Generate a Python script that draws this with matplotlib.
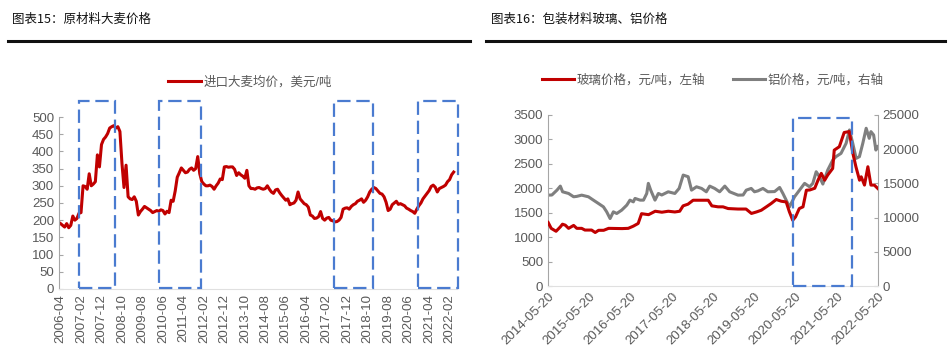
import matplotlib
matplotlib.use("Agg")
import matplotlib.pyplot as plt
import matplotlib.dates as mdates
import pandas as pd
from matplotlib.patches import Rectangle
from matplotlib.lines import Line2D

plt.rcParams['font.family'] = ['Liberation Sans', 'Noto Sans CJK SC', 'DejaVu Sans']

# ---- data: barley import price, monthly from 2006-04 ----
barley_start = '2006-04'
barley_price = [
    190, 185, 180, 190, 178, 185, 212, 200, 205, 220,
    222, 300, 298, 290, 335, 300, 305, 312, 390, 355,
    420, 435, 442, 452, 468, 472, 475, 468, 472, 458,
    365, 295, 360, 268, 262, 260, 268, 255, 215, 225,
    232, 240, 236, 232, 228, 222, 225, 228, 226, 230,
    228, 218, 226, 222, 258, 255, 285, 325, 338, 352,
    345, 338, 340, 348, 352, 345, 350, 385, 335, 312,
    305, 300, 300, 302, 298, 290, 300, 308, 320, 318,
    355, 356, 354, 355, 355, 348, 330, 338, 332, 328,
    322, 345, 300, 292, 292, 290, 294, 295, 292, 290,
    292, 300, 290, 282, 278, 288, 290, 280, 272, 265,
    258, 262, 245, 248, 250, 258, 282, 262, 255, 248,
    245, 238, 215, 212, 205, 206, 210, 225, 205, 200,
    206, 208, 200, 198, 195, 196, 200, 208, 232, 235,
    236, 232, 240, 245, 248, 255, 258, 262, 252, 258,
    268, 282, 290, 295, 292, 285, 278, 276, 268, 252,
    228, 232, 245, 250, 255, 246, 248, 245, 242, 235,
    232, 228, 225, 220, 232, 242, 250, 262, 270, 278,
    286, 298, 302, 296, 282, 292, 295, 298, 302, 312,
    318, 332, 340,
]
# highlighted periods (month index range)
barley_boxes = [(9, 26.7), (48, 68.6), (133.7, 152.4), (174.8, 194.3)]

# ---- data: glass price (left axis) ----
glass_dates = [
    '2014-05-20', '2014-06-16', '2014-07-29', '2014-09-05', '2014-09-24', '2014-10-19',
    '2014-11-17', '2015-01-01', '2015-01-29', '2015-03-13', '2015-04-11', '2015-06-09',
    '2015-07-11', '2015-08-10', '2015-09-24', '2015-11-07', '2016-03-05', '2016-04-29',
    '2016-06-13', '2016-07-26', '2016-08-25', '2016-09-24', '2016-10-26', '2016-12-24',
    '2017-02-21', '2017-04-19', '2017-06-16', '2017-07-29', '2017-08-28', '2017-10-11',
    '2017-11-25', '2018-02-10', '2018-04-08', '2018-05-10', '2018-07-04', '2018-08-17',
    '2018-10-01', '2018-12-27', '2019-03-09', '2019-04-26', '2019-06-09', '2019-07-22',
    '2019-09-05', '2019-10-19', '2019-12-02', '2020-01-15', '2020-02-28', '2020-03-27',
    '2020-04-26', '2020-05-21', '2020-06-23', '2020-07-26', '2020-08-25', '2020-09-24',
    '2020-11-07', '2020-12-06', '2021-01-04', '2021-02-03', '2021-03-02', '2021-04-15',
    '2021-04-29', '2021-06-13', '2021-07-26', '2021-09-09', '2021-10-11', '2021-11-07',
    '2021-12-09', '2021-12-24', '2022-01-22', '2022-02-21', '2022-03-20', '2022-04-19',
    '2022-05-20',
]
glass_price = [
    1300, 1180, 1120, 1210, 1265, 1245,
    1180, 1240, 1180, 1180, 1145, 1145,
    1095, 1140, 1140, 1180, 1175, 1180,
    1225, 1280, 1480, 1470, 1460, 1530,
    1510, 1530, 1515, 1530, 1640, 1675,
    1755, 1755, 1755, 1640, 1620, 1620,
    1585, 1575, 1575, 1485, 1515, 1550,
    1620, 1690, 1770, 1735, 1720, 1520,
    1345, 1415, 1585, 1620, 1960, 1965,
    2000, 2165, 2305, 2165, 2270, 2405,
    2780, 2850, 3140, 3160, 2715, 2440,
    2165, 2235, 2065, 2440, 2065, 2065,
    1995,
]

# ---- data: aluminium price (right axis) ----
alu_dates = [
    '2014-05-20', '2014-06-22', '2014-08-06', '2014-09-05', '2014-09-25', '2014-11-17',
    '2015-01-01', '2015-01-29', '2015-03-13', '2015-05-12', '2015-06-25', '2015-08-09',
    '2015-09-22', '2015-10-21', '2015-11-20', '2015-12-19', '2016-01-18', '2016-03-02',
    '2016-04-16', '2016-05-14', '2016-06-13', '2016-06-28', '2016-08-12', '2016-09-11',
    '2016-10-10', '2016-10-24', '2016-11-14', '2016-12-22', '2017-01-21', '2017-02-20',
    '2017-04-18', '2017-06-16', '2017-07-24', '2017-08-29', '2017-10-12', '2017-11-11',
    '2017-12-25', '2018-02-08', '2018-03-22', '2018-04-21', '2018-06-04', '2018-07-18',
    '2018-09-02', '2018-10-15', '2018-12-28', '2019-02-11', '2019-03-11', '2019-04-24',
    '2019-05-23', '2019-06-22', '2019-08-06', '2019-09-19', '2019-11-17', '2020-01-01',
    '2020-01-30', '2020-02-28', '2020-03-28', '2020-05-12', '2020-06-25', '2020-08-09',
    '2020-09-22', '2020-10-21', '2020-11-20', '2020-12-19', '2021-01-18', '2021-03-02',
    '2021-04-16', '2021-05-14', '2021-06-28', '2021-08-12', '2021-09-11', '2021-10-10',
    '2021-11-09', '2021-12-08', '2022-01-07', '2022-02-06', '2022-03-05', '2022-03-20',
    '2022-04-13', '2022-05-03', '2022-05-20',
]
alu_price = [
    13280, 13300, 14010, 14600, 13770, 13525,
    13040, 13100, 13280, 13040, 12550, 12060,
    11570, 10840, 9860, 10840, 10600, 11090,
    11820, 12550, 12300, 12800, 12550, 12550,
    13525, 15000, 14010, 12550, 13525, 13300,
    13770, 13525, 14260, 16210, 15970, 14010,
    14500, 14260, 13770, 14600, 14260, 13770,
    14600, 13770, 13280, 13300, 14010, 14260,
    13770, 13900, 14260, 13770, 13800, 14400,
    13525, 12550, 11570, 13040, 14010, 15000,
    14500, 15000, 16700, 15970, 14900, 16940,
    18410, 18900, 19385, 20850, 22800, 20850,
    18650, 18900, 20850, 23050, 21580, 22560,
    22070, 19870, 20360,
]
glass_box = ('2020-04-29', '2021-10-04')

RED = '#C00000'
GRAY = '#7F7F7F'
BLUE = '#4A7BD0'
TXT = '#595959'
SPINE = '#A6A6A6'
DASH = (0, (6, 2.6))

fig = plt.figure(figsize=(9.5, 3.58), dpi=100)

# headers
for x0, x1, title in [(0.012, 0.495, '图表15：原材料大麦价格'),
                      (0.516, 0.995, '图表16：包装材料玻璃、铝价格')]:
    fig.text(x0 + 0.001, 0.945, title, fontsize=9, va='center', ha='left',
             family=['Noto Sans CJK SC'], color='#111111')
    fig.add_artist(Line2D([x0 - 0.004, x1], [0.886, 0.886], color='#111111', lw=2.2))

# ---- left chart ----
ax1 = fig.add_axes([0.062, 0.193, 0.419, 0.48])
months = pd.date_range(barley_start, periods=len(barley_price), freq='MS')
idx = list(range(len(barley_price)))
ax1.plot(idx, barley_price, color=RED, lw=2.2, label='进口大麦均价，美元/吨')
ax1.set_xlim(-0.8, 193.6)
ax1.set_ylim(0, 500)
ax1.set_yticks(range(0, 501, 50))
tick_idx = idx[::10]
ax1.set_xticks(tick_idx)
ax1.set_xticklabels([months[i].strftime('%Y-%m') for i in tick_idx], rotation=90)
for a, b in barley_boxes:
    ax1.add_patch(Rectangle((a, 2), b - a, 545, fill=False, ec=BLUE, lw=1.6,
                            ls=DASH, clip_on=False, zorder=5))
ax1.legend(loc='lower center', bbox_to_anchor=(0.48, 1.1), frameon=False,
           fontsize=9, handlelength=2.6, handletextpad=0.2, labelcolor=TXT)

# ---- right chart ----
ax2 = fig.add_axes([0.577, 0.201, 0.347, 0.478])
ax3 = ax2.twinx()
gd = pd.to_datetime(glass_dates)
ad = pd.to_datetime(alu_dates)
l1, = ax2.plot(gd, glass_price, color=RED, lw=2.2, label='玻璃价格，元/吨，左轴', zorder=3)
l2, = ax3.plot(ad, alu_price, color=GRAY, lw=2.2, label='铝价格，元/吨，右轴', zorder=2)
ax2.set_zorder(ax3.get_zorder() + 1)
ax2.patch.set_visible(False)
ax2.set_ylim(0, 3500)
ax2.set_yticks(range(0, 3501, 500))
ax3.set_ylim(0, 25000)
ax3.set_yticks(range(0, 25001, 5000))
x_start, x_end = pd.Timestamp('2014-05-20'), pd.Timestamp('2022-05-20')
ax2.set_xlim(x_start, x_end)
yticks = pd.date_range('2014-05-20', periods=9, freq=pd.DateOffset(years=1))
ax2.set_xticks(yticks)
ax2.set_xticklabels([d.strftime('%Y-%m-%d') for d in yticks], rotation=45,
                    ha='right', rotation_mode='anchor')
b0, b1 = mdates.date2num(pd.Timestamp(glass_box[0])), mdates.date2num(pd.Timestamp(glass_box[1]))
ax2.add_patch(Rectangle((b0, 0), b1 - b0, 3430, fill=False, ec=BLUE, lw=1.6,
                        ls=DASH, clip_on=False, zorder=5))
ax2.legend([l1, l2], [l1.get_label(), l2.get_label()], loc='lower center',
           bbox_to_anchor=(0.5, 1.1), ncol=2, frameon=False, fontsize=9,
           handlelength=2.6, handletextpad=0.2, columnspacing=2.2, labelcolor=TXT)

# axis styling
for ax in (ax1, ax2, ax3):
    for s in ax.spines.values():
        s.set_visible(False)
    ax.tick_params(colors=TXT, labelsize=9.5, direction='in', length=3, width=0.8)
    ax.tick_params(axis='y', color=SPINE)
ax1.spines['left'].set_visible(True)
ax1.spines['left'].set_color(SPINE)
ax1.spines['bottom'].set_visible(True)
ax1.spines['bottom'].set_color('#E0E0E0')
ax1.tick_params(axis='x', length=0, pad=4)
ax2.spines['left'].set_visible(True)
ax2.spines['left'].set_color(SPINE)
ax2.spines['bottom'].set_visible(True)
ax2.spines['bottom'].set_color('#E0E0E0')
ax2.tick_params(axis='x', length=0, pad=3)
ax3.spines['right'].set_visible(True)
ax3.spines['right'].set_color(SPINE)

fig.savefig('out.png', dpi=100)
